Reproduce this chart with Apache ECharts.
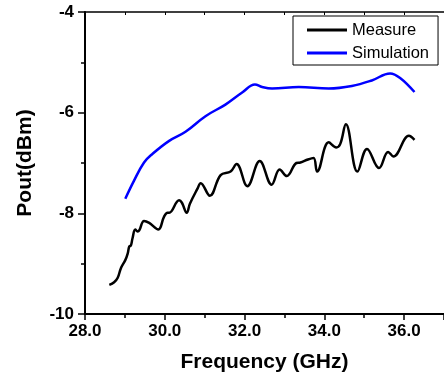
<!DOCTYPE html>
<html>
<head>
<meta charset="utf-8">
<script src="https://cdn.jsdelivr.net/npm/echarts@6/dist/echarts.min.js"></script>
<style>html,body{margin:0;padding:0;background:#fff}#c{width:444px;height:378px}</style>
</head>
<body>
<div id="c"></div>
<script>
var measureX = [28.61,28.73,28.82,28.90,29.01,29.07,29.11,29.15,29.19,29.26,29.32,29.36,29.48,29.61,29.84,29.98,30.07,30.11,30.36,30.43,30.55,30.63,30.82,30.90,31.13,31.40,31.65,31.80,32.07,32.38,32.68,32.88,33.06,33.30,33.40,33.59,33.73,33.82,34.11,34.30,34.40,34.54,34.83,35.07,35.37,35.60,35.73,36.12,36.26];
var measureY = [-9.42,-9.37,-9.28,-9.09,-8.93,-8.80,-8.66,-8.64,-8.50,-8.32,-8.36,-8.34,-8.15,-8.19,-8.32,-8.07,-7.99,-7.99,-7.74,-7.79,-7.99,-7.81,-7.51,-7.40,-7.65,-7.24,-7.17,-7.02,-7.46,-6.96,-7.43,-7.13,-7.26,-7.00,-6.99,-6.93,-6.90,-7.17,-6.59,-6.69,-6.62,-6.23,-7.17,-6.72,-7.10,-6.78,-6.87,-6.46,-6.54];
var simX = [29.01,29.23,29.48,29.69,30.11,30.52,31.02,31.52,31.94,32.26,32.44,32.69,33.36,34.11,34.69,35.19,35.65,35.90,36.26];
var simY = [-7.71,-7.35,-6.99,-6.82,-6.56,-6.38,-6.07,-5.84,-5.60,-5.44,-5.49,-5.52,-5.49,-5.52,-5.47,-5.36,-5.22,-5.31,-5.59];
var seriesNames = ['Measure','Simulation'];
var xTitle = 'Frequency (GHz)';
var yTitle = 'Pout(dBm)';

function zip(a,b){return a.map(function(v,i){return [v,b[i]];});}
var F = 'Liberation Sans, Arial, sans-serif';
var chart = echarts.init(document.getElementById('c'), null, {renderer:'canvas'});
chart.setOption({
  animation:false,
  backgroundColor:'#fff',
  grid:{left:85, top:12, right:-2, bottom:62, containLabel:false},
  legend:{
    orient:'vertical', left:293, top:16,
    borderColor:'#000', borderWidth:1, borderRadius:0,
    padding:[5,9,3,14], itemGap:5, itemWidth:40, itemHeight:3,
    icon:'rect',
    textStyle:{fontFamily:F, fontSize:16.5, color:'#000', lineHeight:18},
    data:seriesNames
  },
  xAxis:[{
    type:'value', min:28, max:37, interval:2, position:'bottom',
    name:xTitle, nameLocation:'middle', nameGap:38,
    nameTextStyle:{fontFamily:F, fontWeight:'bold', fontSize:21, color:'#000'},
    axisLine:{show:true, onZero:false, lineStyle:{color:'#000', width:2}},
    axisTick:{show:true, inside:false, length:6, lineStyle:{color:'#000', width:1.5}},
    minorTick:{show:true, splitNumber:2, length:4, lineStyle:{color:'#000', width:1.5}},
    splitLine:{show:false},
    axisLabel:{margin:9, fontFamily:F, fontWeight:'bold', fontSize:17, color:'#000', showMaxLabel:false,
      formatter:function(v){return v>36.5?'':v.toFixed(1);}}
  },{
    type:'value', min:28, max:37, interval:1, position:'top',
    axisLine:{show:true, onZero:false, lineStyle:{color:'#000', width:1.5}},
    axisTick:{show:true, inside:true, length:3, lineStyle:{color:'#000', width:1}},
    axisLabel:{show:false}, splitLine:{show:false}
  }],
  yAxis:[{
    type:'value', min:-10, max:-4, interval:2,
    name:yTitle, nameLocation:'middle', nameGap:49,
    nameTextStyle:{fontFamily:F, fontWeight:'bold', fontSize:21, color:'#000'},
    axisLine:{show:true, onZero:false, lineStyle:{color:'#000', width:2}},
    axisTick:{show:true, inside:false, length:7, lineStyle:{color:'#000', width:1.5}},
    minorTick:{show:true, splitNumber:2, length:4, lineStyle:{color:'#000', width:1.5}},
    splitLine:{show:false},
    axisLabel:{margin:11, fontFamily:F, fontWeight:'bold', fontSize:17, color:'#000'}
  }],
  series:[{
    name:seriesNames[0], type:'line', smooth:0.4, symbol:'none',
    lineStyle:{color:'#000', width:2.5}, itemStyle:{color:'#000'},
    data:zip(measureX, measureY)
  },{
    name:seriesNames[1], type:'line', smooth:0.4, symbol:'none',
    lineStyle:{color:'#0000ff', width:2.5}, itemStyle:{color:'#0000ff'},
    data:zip(simX, simY)
  }]
});
</script>
</body>
</html>
